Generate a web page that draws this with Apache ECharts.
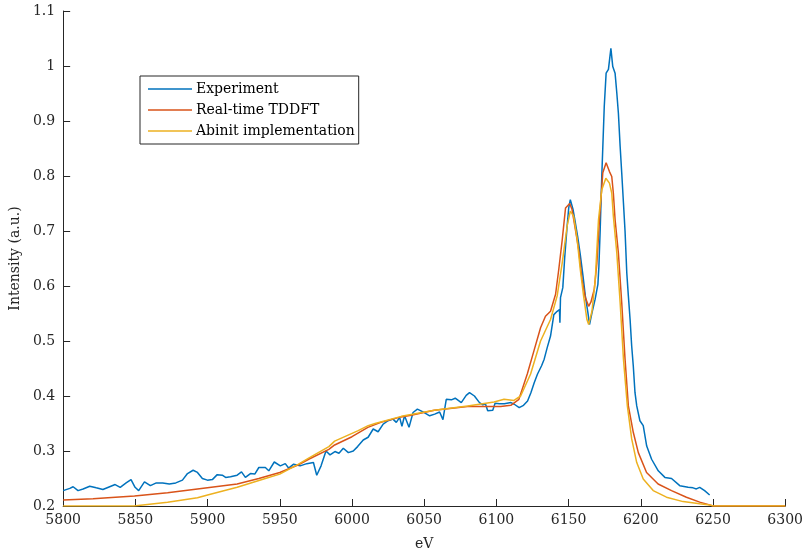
<!DOCTYPE html>
<html>
<head>
<meta charset="utf-8">
<script src="https://cdn.jsdelivr.net/npm/echarts@6/dist/echarts.min.js"></script>
<style>
  html, body { margin: 0; padding: 0; background: #fff; }
  #chart { width: 806px; height: 556px; }
</style>
</head>
<body>
<div id="chart"></div>
<script>
// Measured spectrum
const expEnergy = [5800, 5804.6, 5806.9, 5810.3, 5813.8, 5818.4, 5822.9, 5827.5, 5832.2, 5836, 5839.5, 5843.6, 5847, 5849.8, 5852.3, 5856.3, 5860.4, 5864.5, 5868.9, 5873.5, 5878, 5882.6, 5886.1, 5890, 5893, 5896.4, 5899.9, 5903.3, 5906.7, 5910.2, 5912.5, 5915.9, 5920.5, 5923.5, 5926.2, 5929.7, 5932.7, 5935.5, 5940, 5942.4, 5946.2, 5950.4, 5953.8, 5956.1, 5959.6, 5964.1, 5968.7, 5973.3, 5975.6, 5978.6, 5982, 5984.8, 5988.2, 5991, 5994, 5997.5, 6000.9, 6003.9, 6007.8, 6011.2, 6014.7, 6018.1, 6021.6, 6025, 6028.4, 6030.7, 6033, 6034.6, 6036.4, 6039.5, 6042.3, 6045.3, 6049.2, 6053.8, 6057.3, 6060.7, 6063, 6065.3, 6068.8, 6071.5, 6075.7, 6079.1, 6081.4, 6084.8, 6088.3, 6090.6, 6092.4, 6094, 6097.5, 6099.1, 6102.1, 6105.5, 6110.1, 6112.4, 6115.8, 6118.8, 6121.6, 6123.9, 6126.2, 6128.5, 6131.3, 6133.1, 6135.2, 6137.5, 6139.8, 6142.1, 6143.7, 6144.0, 6144.4, 6146, 6147.3, 6149, 6150.1, 6151.2, 6153.1, 6154.7, 6156.3, 6158.1, 6160, 6161.6, 6163.4, 6164.5, 6166.2, 6168.4, 6170.3, 6171, 6171.9, 6173, 6174.7, 6176, 6177.6, 6179.3, 6180.6, 6182.2, 6183.4, 6184.5, 6185.7, 6186.8, 6188, 6189.1, 6190.3, 6191.4, 6192.6, 6193.7, 6194.8, 6196, 6197.2, 6199.4, 6201.7, 6204.1, 6207.5, 6212.1, 6216.7, 6221.3, 6227, 6232.8, 6236.2, 6238.5, 6240.8, 6244.2, 6247.7];
const expIntensity = [0.228, 0.232, 0.235, 0.228, 0.231, 0.236, 0.233, 0.230, 0.235, 0.239, 0.234, 0.242, 0.248, 0.234, 0.228, 0.244, 0.237, 0.242, 0.242, 0.240, 0.242, 0.247, 0.259, 0.265, 0.261, 0.250, 0.247, 0.248, 0.257, 0.256, 0.252, 0.253, 0.256, 0.262, 0.252, 0.259, 0.258, 0.270, 0.270, 0.264, 0.280, 0.273, 0.277, 0.269, 0.276, 0.273, 0.277, 0.279, 0.256, 0.273, 0.300, 0.293, 0.299, 0.296, 0.305, 0.297, 0.300, 0.308, 0.320, 0.325, 0.340, 0.335, 0.349, 0.355, 0.358, 0.352, 0.361, 0.345, 0.364, 0.343, 0.370, 0.376, 0.371, 0.364, 0.367, 0.371, 0.357, 0.394, 0.393, 0.396, 0.388, 0.401, 0.406, 0.400, 0.388, 0.384, 0.386, 0.373, 0.374, 0.387, 0.386, 0.386, 0.388, 0.385, 0.379, 0.383, 0.391, 0.406, 0.424, 0.440, 0.455, 0.467, 0.488, 0.509, 0.548, 0.554, 0.557, 0.533, 0.579, 0.597, 0.651, 0.709, 0.742, 0.757, 0.739, 0.715, 0.690, 0.657, 0.618, 0.582, 0.551, 0.530, 0.551, 0.576, 0.603, 0.636, 0.703, 0.800, 0.926, 0.987, 0.994, 1.032, 0.999, 0.987, 0.951, 0.914, 0.854, 0.806, 0.751, 0.700, 0.624, 0.582, 0.539, 0.491, 0.455, 0.406, 0.382, 0.355, 0.346, 0.309, 0.285, 0.264, 0.252, 0.250, 0.237, 0.234, 0.233, 0.231, 0.234, 0.228, 0.220];

// Real-time TDDFT result
const rtEnergy = [5800, 5820.7, 5831, 5849.4, 5872.3, 5893, 5920.5, 5935.5, 5950, 5963, 5970, 5984, 5988, 6000, 6011, 6020, 6034, 6041, 6057, 6080, 6103, 6110, 6115.6, 6121.4, 6126, 6130.6, 6134, 6137.5, 6141, 6143.2, 6145.6, 6147.9, 6150.8, 6152.4, 6154.7, 6157, 6159.3, 6161.6, 6163.9, 6165.5, 6167.8, 6169.6, 6171.4, 6173.7, 6176, 6178.3, 6179.9, 6181, 6182.2, 6184.5, 6186.8, 6189.1, 6191.4, 6194.8, 6198.3, 6204, 6212, 6221.3, 6231.6, 6240.8, 6247.7, 6250, 6300];
const rtIntensity = [0.211, 0.213, 0.215, 0.218, 0.224, 0.231, 0.240, 0.250, 0.261, 0.275, 0.285, 0.303, 0.311, 0.326, 0.343, 0.352, 0.362, 0.365, 0.374, 0.381, 0.381, 0.383, 0.394, 0.440, 0.482, 0.524, 0.545, 0.554, 0.585, 0.630, 0.684, 0.742, 0.750, 0.739, 0.703, 0.666, 0.612, 0.579, 0.563, 0.571, 0.594, 0.642, 0.721, 0.806, 0.824, 0.808, 0.799, 0.769, 0.721, 0.660, 0.570, 0.467, 0.382, 0.334, 0.297, 0.261, 0.240, 0.228, 0.216, 0.207, 0.202, 0.200, 0.200];

// Abinit implementation result
const abEnergy = [5800, 5849, 5872.3, 5893, 5900, 5920.5, 5940, 5950, 5963, 5970, 5984, 5988, 6004.3, 6011.2, 6016, 6034.2, 6057.1, 6080.1, 6098.4, 6105.3, 6112.2, 6116.8, 6123.7, 6130.6, 6137.5, 6142.1, 6145.6, 6149, 6151.2, 6153.5, 6155.8, 6158.1, 6160.4, 6162.7, 6163.9, 6166.2, 6168.5, 6170.7, 6173, 6175.8, 6178.3, 6179.9, 6181, 6183.4, 6185.7, 6188, 6190.7, 6193.7, 6197.2, 6201.7, 6208.6, 6217.8, 6229.3, 6240.8, 6247.7, 6250, 6300];
const abIntensity = [0.200, 0.200, 0.207, 0.215, 0.220, 0.234, 0.250, 0.258, 0.276, 0.287, 0.308, 0.318, 0.337, 0.346, 0.350, 0.363, 0.374, 0.382, 0.389, 0.394, 0.392, 0.400, 0.440, 0.500, 0.539, 0.582, 0.642, 0.709, 0.736, 0.727, 0.688, 0.630, 0.582, 0.539, 0.530, 0.554, 0.612, 0.720, 0.775, 0.796, 0.787, 0.769, 0.727, 0.660, 0.570, 0.467, 0.382, 0.322, 0.279, 0.249, 0.228, 0.216, 0.208, 0.204, 0.202, 0.200, 0.200];

const seriesNames = ['Experiment', 'Real-time TDDFT', 'Abinit implementation'];
const seriesColors = ['#0072BD', '#D95319', '#EDB120'];
const xTicks = { min: 5800, max: 6300, step: 50 };
const yTicks = { min: 0.2, max: 1.1, step: 0.1 };

const zip = (xs, ys) => xs.map((x, i) => [x, ys[i]]);
const font = 'DejaVu Serif';
const ink = '#262626';

// Legend key: a thin horizontal stroke centred in a 44x14 box
const legendKey = 'path://M0,0 M0,6.25 L44,6.25 L44,7.75 L0,7.75 Z M44,14';

const chart = echarts.init(document.getElementById('chart'), null, { renderer: 'canvas' });

const axisCommon = {
  type: 'value',
  splitLine: { show: false },
  axisLine: { show: true, onZero: false, lineStyle: { color: ink, width: 1 } },
  axisTick: { show: true, inside: true, length: 7, lineStyle: { color: ink, width: 1 } },
  axisLabel: { color: ink, fontFamily: font, fontSize: 14 },
  nameTextStyle: { color: ink, fontFamily: font, fontSize: 14 }
};

chart.setOption({
  animation: false,
  backgroundColor: '#fff',
  grid: { left: 60, right: 20, top: 11, bottom: 49, containLabel: false },
  xAxis: Object.assign({}, axisCommon, {
    min: xTicks.min, max: xTicks.max, interval: xTicks.step,
    name: 'eV', nameLocation: 'middle', nameGap: 31,
    axisLabel: Object.assign({}, axisCommon.axisLabel, {
      margin: 7,
      formatter: v => String(v)
    })
  }),
  yAxis: Object.assign({}, axisCommon, {
    min: yTicks.min, max: yTicks.max, interval: yTicks.step,
    name: 'Intensity (a.u.)', nameLocation: 'middle', nameGap: 36,
    axisLabel: Object.assign({}, axisCommon.axisLabel, {
      margin: 8,
      formatter: v => String(parseFloat(v.toFixed(1)))
    })
  }),
  legend: {
    data: seriesNames,
    icon: legendKey,
    orient: 'vertical',
    left: 140, top: 76,
    backgroundColor: '#fff',
    borderColor: ink, borderWidth: 1, borderRadius: 0,
    padding: [6, 4, 6, 8],
    itemWidth: 44, itemHeight: 14, itemGap: 7,
    itemStyle: { borderWidth: 0 },
    textStyle: { color: '#000', fontFamily: font, fontSize: 14, padding: [0, 0, 0, -1] }
  },
  series: [
    { name: seriesNames[0], data: zip(expEnergy, expIntensity) },
    { name: seriesNames[1], data: zip(rtEnergy, rtIntensity) },
    { name: seriesNames[2], data: zip(abEnergy, abIntensity) }
  ].map((s, i) => Object.assign({
    type: 'line',
    symbol: 'none',
    showSymbol: false,
    color: seriesColors[i],
    lineStyle: { color: seriesColors[i], width: 1.5 },
    emphasis: { disabled: true }
  }, s))
});
</script>
</body>
</html>
